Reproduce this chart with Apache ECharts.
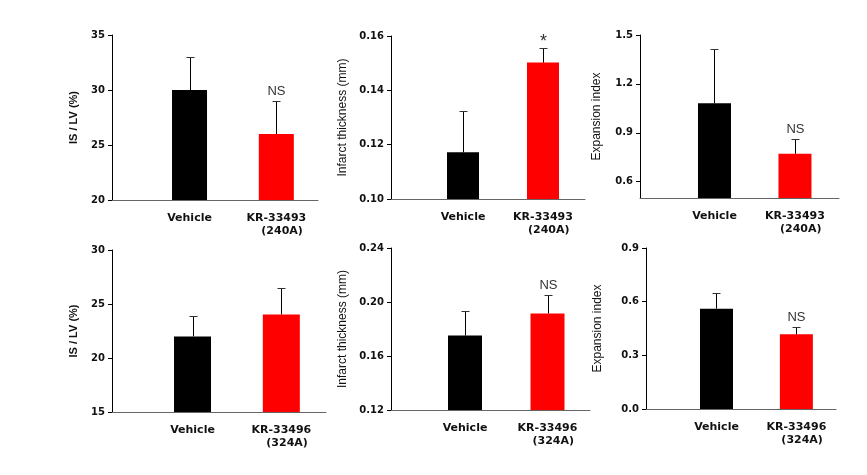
<!DOCTYPE html>
<html>
<head>
<meta charset="utf-8">
<script src="https://cdn.jsdelivr.net/npm/echarts@6/dist/echarts.min.js"></script>
<style>
html,body{margin:0;padding:0;background:#fff;}
#chart{width:867px;height:475px;}
</style>
</head>
<body>
<div id="chart"></div>
<script>
// ---- data ----
const catsA = ['Vehicle', 'KR-33493\n(240A)'];
const catsB = ['Vehicle', 'KR-33496\n(324A)'];
const barColors = ['#000000', '#ff0000'];

const isLv240Mean = [30.0, 26.0];
const isLv240Err = [3.0, 3.0];
const isLv240Note = ['', 'NS'];
const isLv240Ticks = [20, 25, 30, 35];

const thick240Mean = [0.1172, 0.1502];
const thick240Err = [0.0151, 0.0055];
const thick240Note = ['', '*'];
const thick240Ticks = [0.10, 0.12, 0.14, 0.16];

const exp240Mean = [1.081, 0.771];
const exp240Err = [0.335, 0.088];
const exp240Note = ['', 'NS'];
const exp240Ticks = [0.6, 0.9, 1.2, 1.5];

const isLv324Mean = [22.0, 24.03];
const isLv324Err = [1.85, 2.41];
const isLv324Note = ['', ''];
const isLv324Ticks = [15, 20, 25, 30];

const thick324Mean = [0.1751, 0.1915];
const thick324Err = [0.0181, 0.0140];
const thick324Note = ['', 'NS'];
const thick324Ticks = [0.12, 0.16, 0.20, 0.24];

const exp324Mean = [0.561, 0.418];
const exp324Err = [0.090, 0.039];
const exp324Note = ['', 'NS'];
const exp324Ticks = [0.0, 0.3, 0.6, 0.9];

const nameIsLv = 'IS / LV (%)';
const nameThick = 'Infarct thickness (mm)';
const nameExp = 'Expansion index';

// ---- panels (data refs + layout) ----
const panels = [
  {cats: catsA, mean: isLv240Mean, err: isLv240Err, note: isLv240Note, ticks: isLv240Ticks, ymin: 20, dec: 0, name: nameIsLv, bold: true, nameSize: 11, gap: 33,
   left: 112, top: 35, width: 206, height: 165, xmin: 0.107, xmax: 2.48, bw: 35},
  {cats: catsA, mean: thick240Mean, err: thick240Err, note: thick240Note, ticks: thick240Ticks, ymin: 0.10, dec: 2, name: nameThick, bold: false, nameSize: 12, gap: 42,
   left: 391, top: 36, width: 194, height: 163, xmin: 0.10, xmax: 2.525, bw: 32},
  {cats: catsA, mean: exp240Mean, err: exp240Err, note: exp240Note, ticks: exp240Ticks, ymin: 0.5, dec: 1, name: nameExp, bold: false, nameSize: 12, gap: 37,
   left: 640, top: 35, width: 199, height: 163, xmin: 0.0745, xmax: 2.547, bw: 33},
  {cats: catsB, mean: isLv324Mean, err: isLv324Err, note: isLv324Note, ticks: isLv324Ticks, ymin: 15, dec: 0, name: nameIsLv, bold: true, nameSize: 11, gap: 33,
   left: 112, top: 250, width: 214, height: 162, xmin: 0.0935, xmax: 2.503, bw: 37},
  {cats: catsB, mean: thick324Mean, err: thick324Err, note: thick324Note, ticks: thick324Ticks, ymin: 0.12, dec: 2, name: nameThick, bold: false, nameSize: 12, gap: 42,
   left: 391, top: 248, width: 199, height: 162, xmin: 0.103, xmax: 2.515, bw: 34},
  {cats: catsB, mean: exp324Mean, err: exp324Err, note: exp324Note, ticks: exp324Ticks, ymin: 0.0, dec: 1, name: nameExp, bold: false, nameSize: 12, gap: 42,
   left: 646, top: 248, width: 190, height: 161, xmin: 0.1175, xmax: 2.496, bw: 33}
];

const grid = [], xAxis = [], yAxis = [], series = [];
panels.forEach((p, k) => {
  const positions = p.cats.map((c, i) => i + 1);
  grid.push({left: p.left, top: p.top, width: p.width, height: p.height, containLabel: false, outerBoundsMode: 'none'});
  xAxis.push({
    type: 'value', gridIndex: k, min: p.xmin, max: p.xmax,
    splitLine: {show: false},
    axisLine: {show: true, onZero: false, lineStyle: {color: '#666', width: 1}},
    axisTick: {show: false},
    axisLabel: {
      show: true, customValues: positions, margin: 12,
      fontFamily: 'DejaVu Sans', fontWeight: 'bold', fontSize: 11, color: '#111', lineHeight: 13,
      formatter: v => {
        const idx = positions.indexOf(Math.round(v));
        return idx >= 0 ? p.cats[idx].replace('\n', '\n   ') : '';
      }
    }
  });
  yAxis.push({
    type: 'value', gridIndex: k, min: p.ymin, max: p.ticks[p.ticks.length - 1],
    name: p.name, nameLocation: 'middle', nameRotate: 90, nameGap: p.gap,
    nameTextStyle: {fontFamily: 'Liberation Sans', fontSize: p.nameSize, fontWeight: p.bold ? 'bold' : 'normal', color: '#111'},
    splitLine: {show: false},
    axisLine: {show: true, onZero: false, lineStyle: {color: '#000', width: 1}},
    axisTick: {show: true, inside: false, length: 4, customValues: p.ticks, lineStyle: {color: '#000'}},
    axisLabel: {
      show: true, customValues: p.ticks, margin: 7,
      fontFamily: 'DejaVu Sans', fontWeight: 'bold', fontSize: 10, color: '#111',
      formatter: v => Number(v).toFixed(p.dec)
    }
  });
  series.push({
    type: 'bar', xAxisIndex: k, yAxisIndex: k, barWidth: p.bw,
    data: p.mean.map((m, i) => ({value: [positions[i], m], itemStyle: {color: barColors[i]}})),
    silent: true, animation: false
  });
  series.push({
    type: 'custom', xAxisIndex: k, yAxisIndex: k, z: 5, clip: false, animation: false, silent: true,
    data: p.mean.map((m, i) => [positions[i], m, p.err[i]]),
    encode: {x: 0, y: 1},
    renderItem: (params, api) => {
      const x = api.value(0), m = api.value(1), e = api.value(2);
      const b = api.coord([x, m]);
      const t = api.coord([x, m + e]);
      const cx = Math.round(b[0]) + 0.5;
      const ty = Math.round(t[1]) + 0.5;
      const children = [
        {type: 'line', shape: {x1: cx, y1: b[1], x2: cx, y2: ty}, style: {stroke: '#000', lineWidth: 1}},
        {type: 'line', shape: {x1: cx - 4, y1: ty, x2: cx + 4, y2: ty}, style: {stroke: '#333', lineWidth: 1}}
      ];
      const note = p.note[params.dataIndex];
      if (note) {
        const isStar = note === '*';
        children.push({type: 'text', x: cx, y: isStar ? ty - 6 : ty - 10, style: {
          text: note, align: 'center', verticalAlign: 'middle',
          fontFamily: 'Liberation Sans', fontSize: isStar ? 18 : 13, fill: '#333'
        }});
      }
      return {type: 'group', children: children};
    }
  });
});

const chart = echarts.init(document.getElementById('chart'), null, {renderer: 'canvas'});
chart.setOption({
  backgroundColor: '#ffffff',
  animation: false,
  grid: grid, xAxis: xAxis, yAxis: yAxis, series: series
});
</script>
</body>
</html>
